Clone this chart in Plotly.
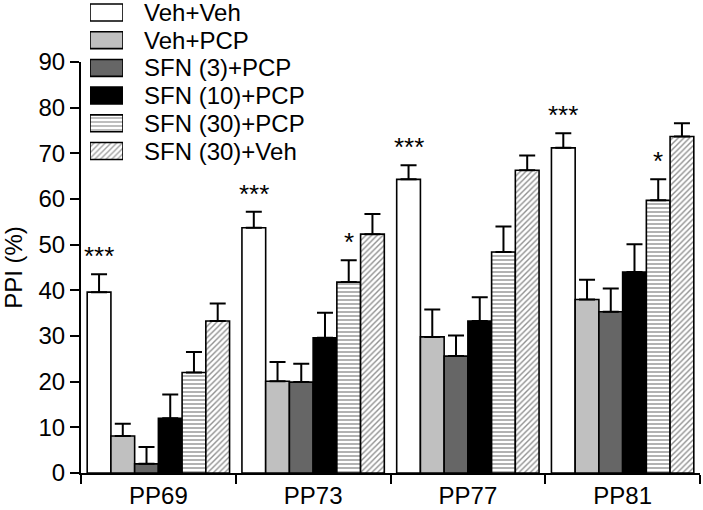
import plotly.graph_objects as go

categories = ["PP69", "PP73", "PP77", "PP81"]
groups = ["Veh+Veh", "Veh+PCP", "SFN (3)+PCP", "SFN (10)+PCP", "SFN (30)+PCP", "SFN (30)+Veh"]

veh_veh = [39.6, 53.7, 64.3, 71.2]
veh_veh_err = [3.9, 3.5, 3.1, 3.2]
veh_pcp = [8.1, 20.1, 29.8, 38.0]
veh_pcp_err = [2.7, 4.2, 6.0, 4.3]
sfn3_pcp = [2.0, 19.9, 25.6, 35.3]
sfn3_pcp_err = [3.7, 4.0, 4.5, 5.1]
sfn10_pcp = [12.0, 29.6, 33.3, 44.0]
sfn10_pcp_err = [5.2, 5.5, 5.2, 6.1]
sfn30_pcp = [22.0, 41.8, 48.4, 59.7]
sfn30_pcp_err = [4.5, 4.8, 5.6, 4.6]
sfn30_veh = [33.3, 52.3, 66.3, 73.7]
sfn30_veh_err = [3.8, 4.4, 3.2, 2.9]

means = [veh_veh, veh_pcp, sfn3_pcp, sfn10_pcp, sfn30_pcp, sfn30_veh]
errors = [veh_veh_err, veh_pcp_err, sfn3_pcp_err, sfn10_pcp_err, sfn30_pcp_err, sfn30_veh_err]

# significance marks
sig_cats = ["PP69", "PP73", "PP77", "PP81", "PP73", "PP81"]
sig_groups = ["Veh+Veh", "Veh+Veh", "Veh+Veh", "Veh+Veh", "SFN (30)+PCP", "SFN (30)+PCP"]
sig_labels = ["***", "***", "***", "***", "*", "*"]

# styles
colors = ["white", "#c0c0c0", "#666666", "black", "white", "white"]
patterns = ["", "", "", "", "-", "/"]

FONT = "Arial, Liberation Sans, Helvetica, sans-serif"
BARGAP = 0.08
W, H = 703, 510
ML, MR, MT, MB = 81, 3, 0, 37
PW, PH = W - ML - MR, H - MT - MB
Y_TOP_PX = 62  # pixel of the top of the y axis

fig = go.Figure()

for g, name in enumerate(groups):
    fig.add_trace(go.Bar(
        x=categories, y=means[g], name=name,
        marker=dict(color=colors[g], line=dict(color="black", width=1.6),
                    pattern=dict(shape=patterns[g], fgcolor="#222222", bgcolor="white",
                                 size=4, solidity=0.35)),
        error_y=dict(type="data", symmetric=False, array=errors[g],
                     arrayminus=[0] * len(errors[g]),
                     color="black", thickness=2, width=8),
        xaxis="x", yaxis="y", showlegend=False,
    ))

# custom legend swatches (drawn on a tiny hidden axis pair)
fig.add_trace(go.Bar(
    x=[1] * len(groups), y=list(range(len(groups))), orientation="h",
    width=0.61,
    marker=dict(color=colors, line=dict(color="black", width=1.6),
                pattern=dict(shape=patterns, fgcolor="#222222", bgcolor="white",
                             size=4, solidity=0.35)),
    xaxis="x2", yaxis="y2", showlegend=False, hoverinfo="skip",
))

annotations = []
for i, name in enumerate(groups):
    annotations.append(dict(
        text=name, xref="paper", yref="y2", x=(142 - ML) / PW, y=i,
        xanchor="left", yanchor="middle", showarrow=False,
        font=dict(family=FONT, size=24, color="black"),
    ))

ng = len(groups)
gw = 1 - BARGAP
for c, gname, lab in zip(sig_cats, sig_groups, sig_labels):
    ci = categories.index(c)
    gi = groups.index(gname)
    xpos = ci - gw / 2 + (gi + 0.5) * gw / ng
    ypos = means[gi][ci] + errors[gi][ci]
    annotations.append(dict(
        text=lab, xref="x", yref="y", x=xpos, y=ypos,
        xanchor="center", yanchor="bottom", showarrow=False, yshift=1,
        font=dict(family=FONT, size=26, color="black"),
    ))

row0_px, row_step = 12.5, 27.7
leg_bottom_px = 164
fig.update_layout(
    width=W, height=H,
    margin=dict(l=ML, r=MR, t=MT, b=MB, autoexpand=False),
    paper_bgcolor="white", plot_bgcolor="white",
    barmode="group", bargap=BARGAP, bargroupgap=0,
    font=dict(family=FONT, size=24, color="black"),
    xaxis=dict(type="category", range=[-0.5, 3.5], showline=True, linecolor="black",
               linewidth=2, ticks="outside", tickson="boundaries", ticklen=9,
               tickwidth=2, tickcolor="black", showgrid=False, zeroline=False,
               tickfont=dict(size=24), anchor="y"),
    yaxis=dict(range=[0, 90], dtick=10, domain=[0, (PH - (Y_TOP_PX - MT)) / PH],
               showline=True, linecolor="black", linewidth=2, ticks="outside",
               ticklen=9, tickwidth=2, tickcolor="black", showgrid=False,
               zeroline=False, tickfont=dict(size=24),
               title=dict(text="PPI (%)", font=dict(size=24), standoff=13)),
    xaxis2=dict(domain=[(90 - ML) / PW, (123 - ML) / PW], range=[0, 1], visible=False,
                anchor="y2", fixedrange=True),
    yaxis2=dict(domain=[(PH - leg_bottom_px) / PH, 1.0],
                range=[(leg_bottom_px - row0_px) / row_step, -row0_px / row_step],
                visible=False, anchor="x2", fixedrange=True),
    annotations=annotations,
)

fig.write_html("out.html", config={"displayModeBar": False},
               post_script="document.body.style.margin='0';document.body.style.padding='0';")
